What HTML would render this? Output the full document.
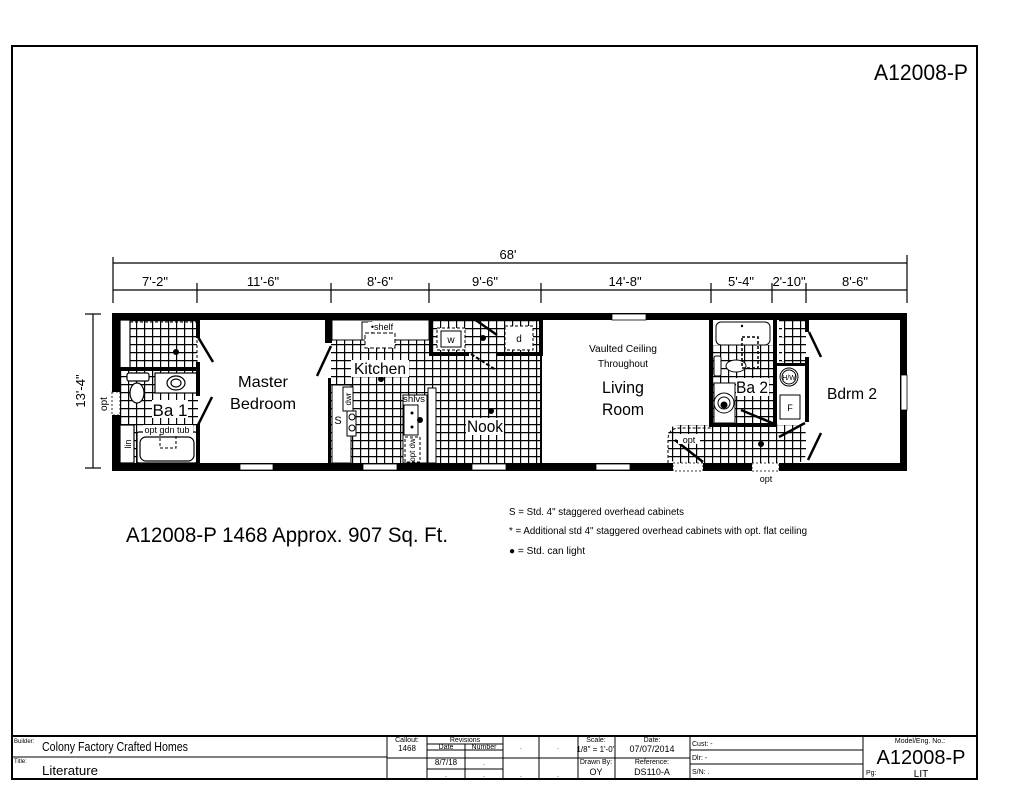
<!DOCTYPE html>
<html><head><meta charset="utf-8"><style>
html,body{margin:0;padding:0;background:#fff;}
svg{display:block;}
text{font-family:"Liberation Sans",sans-serif;fill:#000;}
</style></head><body>
<svg width="1024" height="791" viewBox="0 0 1024 791" xmlns="http://www.w3.org/2000/svg">
<defs>
<pattern id="tile" x="0" y="0" width="8" height="8" patternUnits="userSpaceOnUse">
<rect width="8" height="8" fill="#fff"/>
<path d="M0 0.5H8M0.5 0V8" stroke="#000" stroke-width="1.4"/>
</pattern>
</defs>
<!-- border -->
<rect x="12" y="46" width="965" height="733" fill="none" stroke="#000" stroke-width="2"/>
<text x="968" y="80" font-size="22" text-anchor="end" textLength="94" lengthAdjust="spacingAndGlyphs">A12008-P</text>

<!-- dimensions -->
<g stroke="#000" stroke-width="1.2" fill="none">
<line x1="113" y1="263" x2="907" y2="263"/>
<line x1="113" y1="257" x2="113" y2="303"/>
<line x1="907" y1="255" x2="907" y2="303"/>
<line x1="113" y1="290" x2="907" y2="290"/>
<line x1="197" y1="283" x2="197" y2="303"/>
<line x1="331" y1="283" x2="331" y2="303"/>
<line x1="429" y1="283" x2="429" y2="303"/>
<line x1="541" y1="283" x2="541" y2="303"/>
<line x1="711" y1="283" x2="711" y2="303"/>
<line x1="772" y1="283" x2="772" y2="303"/>
<line x1="806" y1="283" x2="806" y2="303"/>
<line x1="93" y1="314" x2="93" y2="468"/>
<line x1="85" y1="314" x2="101" y2="314"/>
<line x1="85" y1="468" x2="101" y2="468"/>
</g>
<g font-size="13" text-anchor="middle">
<text x="508" y="259">68'</text>
<text x="155" y="286">7'-2"</text>
<text x="263" y="286">11'-6"</text>
<text x="380" y="286">8'-6"</text>
<text x="485" y="286">9'-6"</text>
<text x="625" y="286">14'-8"</text>
<text x="741" y="286">5'-4"</text>
<text x="789" y="286">2'-10"</text>
<text x="855" y="286">8'-6"</text>
</g>
<text transform="translate(85,391) rotate(-90)" font-size="13" text-anchor="middle">13'-4"</text>
<text transform="translate(107,404) rotate(-90)" font-size="10" text-anchor="middle">opt</text>

<!-- floor plan outer walls -->
<rect x="112" y="313" width="795" height="158" fill="#000"/>
<rect x="120" y="320" width="780" height="143" fill="#fff"/>

<!-- tile areas -->
<g fill="url(#tile)">
<rect x="130" y="320" width="67" height="48"/>
<rect x="120" y="371" width="78" height="92"/>
<rect x="331" y="340" width="210" height="123"/>
<rect x="433" y="320" width="108" height="32"/>
<rect x="668" y="425" width="138" height="38" rx="10"/>
<rect x="779" y="320" width="27" height="45"/>
<rect x="713" y="345" width="63" height="78"/>
</g>
<!-- dashed borders -->
<rect x="130" y="322" width="67" height="46" fill="none" stroke="#000" stroke-dasharray="3,2"/>
<path d="M668 463V440Q668 428 680 428H712" fill="none" stroke="#000" stroke-dasharray="3,2"/>

<!-- windows -->
<g fill="#fff" stroke="#000" stroke-width="0.8">
<rect x="240" y="464" width="33" height="6"/>
<rect x="363" y="464" width="34" height="6"/>
<rect x="472" y="464" width="34" height="6"/>
<rect x="596" y="464" width="34" height="6"/>
<rect x="612" y="314" width="34" height="6"/>
<rect x="901" y="375" width="6" height="35"/>
</g>
<g fill="#fff" stroke="#000" stroke-width="0.8" stroke-dasharray="2,2">
<rect x="112" y="392" width="8" height="23"/>
<rect x="752" y="463" width="27" height="8"/>
<rect x="673" y="463" width="30" height="8"/>
</g>

<!-- Ba1 fixtures -->
<g fill="#fff" stroke="#000" stroke-width="1.2">
<rect x="120" y="320" width="10" height="48"/>
<rect x="155" y="373" width="42" height="20"/>
<ellipse cx="176" cy="383" rx="9" ry="7"/>
<ellipse cx="176" cy="383" rx="5" ry="4"/>
<rect x="127" y="373" width="22" height="8" rx="2"/>
<ellipse cx="137" cy="393" rx="7" ry="10"/>
<rect x="120" y="425" width="14" height="38"/>
<rect x="137" y="432" width="60" height="31" rx="2"/>
<rect x="140" y="437" width="54" height="24" rx="6"/>
</g>
<rect x="160" y="432" width="16" height="16" fill="none" stroke="#000" stroke-dasharray="3,2"/>
<circle cx="176" cy="352" r="3" fill="#000"/>
<!-- walls interior left -->
<g fill="#000">
<rect x="120" y="367" width="78" height="4"/>
<rect x="196" y="320" width="4" height="18"/>
<rect x="196" y="362" width="4" height="34"/>
<rect x="196" y="424" width="4" height="39"/>
<rect x="325" y="320" width="7" height="23"/>
<rect x="328" y="378" width="3" height="85"/>
<rect x="429" y="320" width="4" height="36"/>
<rect x="429" y="352" width="40" height="4"/>
<rect x="497" y="352" width="46" height="4"/>
<rect x="539" y="320" width="4" height="36"/>
<rect x="540" y="356" width="2" height="107"/>
</g>
<g stroke="#000" stroke-width="2.5">
<line x1="198" y1="337" x2="213" y2="362"/>
<line x1="198" y1="425" x2="212" y2="397"/>
<line x1="331" y1="346" x2="317" y2="376"/>
<line x1="467" y1="314" x2="497" y2="335"/>
</g>
<line x1="471" y1="354" x2="496" y2="370" stroke="#000" stroke-width="2" stroke-dasharray="4,2"/>

<!-- kitchen -->
<g fill="#fff" stroke="#000" stroke-width="1">
<rect x="332" y="320" width="97" height="20"/>
<rect x="362" y="322" width="10" height="18"/>
<rect x="332" y="385" width="19" height="78"/>
<rect x="343" y="387" width="10" height="24"/>
<rect x="347" y="411" width="9" height="25"/>
<rect x="403" y="395" width="24" height="68"/>
<rect x="404" y="405" width="14" height="30"/>
<rect x="428" y="388" width="8" height="75"/>
</g>
<rect x="365" y="333" width="30" height="15" fill="#fff" stroke="#000" stroke-dasharray="4,2"/>
<rect x="405" y="437" width="15" height="25" fill="#fff" stroke="#000" stroke-dasharray="3,2"/>
<g fill="none" stroke="#000">
<circle cx="352" cy="417" r="3"/><circle cx="352" cy="428" r="3"/>
</g>
<g fill="#000">
<circle cx="412" cy="413" r="1.5"/><circle cx="412" cy="427" r="1.5"/>
<circle cx="420" cy="420" r="3"/>
<circle cx="381" cy="379" r="3"/>
<circle cx="491" cy="411" r="3"/>
<circle cx="483" cy="338" r="3"/>
</g>
<g fill="#fff" stroke="#000" stroke-dasharray="3,2">
<rect x="437" y="328" width="28" height="22"/>
<rect x="505" y="326" width="28" height="24"/>
</g>
<rect x="441" y="331" width="20" height="16" fill="#fff" stroke="#000"/>
<text x="451" y="343" font-size="10" text-anchor="middle">w</text>
<text x="519" y="342" font-size="10" text-anchor="middle">d</text>

<!-- right side walls -->
<g fill="#000">
<rect x="709" y="320" width="4" height="106"/>
<rect x="709" y="423" width="68" height="4"/>
<rect x="773" y="320" width="4" height="106"/>
<rect x="777" y="363" width="29" height="3"/>
<rect x="805" y="320" width="4" height="12"/>
<rect x="805" y="357" width="4" height="65"/>
</g>
<g stroke="#000" stroke-width="2.5">
<line x1="741" y1="410" x2="777" y2="425"/>
<line x1="809" y1="332" x2="821" y2="357"/>
<line x1="808" y1="460" x2="821" y2="433"/>
<line x1="779" y1="437" x2="805" y2="423"/>
<line x1="675" y1="440" x2="703" y2="462"/>
</g>
<g fill="#fff" stroke="#000" stroke-width="1">
<rect x="716" y="322" width="54" height="23" rx="5"/>
<rect x="714" y="356" width="7" height="20" rx="2"/>
<ellipse cx="736" cy="366" rx="10" ry="6"/>
<rect x="714" y="383" width="21" height="40"/>
<circle cx="724" cy="403" r="10"/><circle cx="724" cy="403" r="6"/>
<circle cx="789" cy="377" r="9"/><circle cx="789" cy="377" r="7"/>
<rect x="780" y="395" width="20" height="24"/>
</g>
<circle cx="724" cy="405" r="3.5" fill="#000"/>
<rect x="742" y="337" width="16" height="31" fill="none" stroke="#000" stroke-dasharray="3,2" stroke-width="1.5"/>
<line x1="783" y1="322" x2="783" y2="362" stroke="#fff" stroke-width="2" stroke-dasharray="3,3"/>
<circle cx="761" cy="444" r="3" fill="#000"/>
<circle cx="742" cy="326" r="1.2" fill="#000"/>

<!-- plan labels -->
<g text-anchor="middle">
<text x="263" y="387" font-size="16" textLength="50" lengthAdjust="spacingAndGlyphs">Master</text>
<text x="263" y="409" font-size="16" textLength="66" lengthAdjust="spacingAndGlyphs">Bedroom</text>
<rect x="152" y="400" width="36" height="18" fill="#fff"/>
<text x="170" y="416" font-size="17">Ba 1</text>
<rect x="143" y="425" width="50" height="9" fill="#fff"/>
<text x="167" y="433" font-size="9">opt gdn tub</text>
<rect x="351" y="360" width="58" height="17" fill="#fff"/>
<text x="380" y="374" font-size="16" textLength="52" lengthAdjust="spacingAndGlyphs">Kitchen</text>
<rect x="466" y="418" width="38" height="17" fill="#fff"/>
<text x="485" y="432" font-size="17" textLength="36" lengthAdjust="spacingAndGlyphs">Nook</text>
<rect x="368" y="322" width="30" height="10" fill="#fff"/>
<text x="382" y="330" font-size="9">•shelf</text>
<text x="414" y="402" font-size="9" textLength="22" lengthAdjust="spacingAndGlyphs">shlvs</text>
<text x="338" y="424" font-size="11">S</text>
<text x="623" y="352" font-size="10" textLength="68" lengthAdjust="spacingAndGlyphs">Vaulted Ceiling</text>
<text x="623" y="367" font-size="10" textLength="50" lengthAdjust="spacingAndGlyphs">Throughout</text>
<text x="623" y="393" font-size="17" textLength="42" lengthAdjust="spacingAndGlyphs">Living</text>
<text x="623" y="415" font-size="17" textLength="42" lengthAdjust="spacingAndGlyphs">Room</text>
<rect x="736" y="378" width="33" height="18" fill="#fff"/>
<text x="752" y="393" font-size="17" textLength="32" lengthAdjust="spacingAndGlyphs">Ba 2</text>
<text x="852" y="399" font-size="16" textLength="50" lengthAdjust="spacingAndGlyphs">Bdrm 2</text>
<text x="789" y="380" font-size="7">H/W</text>
<text x="790" y="411" font-size="9">F</text>
<rect x="678" y="434" width="22" height="10" fill="#fff"/>
<text x="689" y="443" font-size="9">opt</text>
<text x="766" y="482" font-size="9">opt</text>
</g>
<text transform="translate(131,444) rotate(-90)" font-size="9" text-anchor="middle">lin</text>
<text transform="translate(351,399) rotate(-90)" font-size="8" text-anchor="middle">dwr</text>
<text transform="translate(415,450) rotate(-90)" font-size="8" text-anchor="middle">opt dw</text>

<!-- notes -->
<text x="126" y="542" font-size="21" textLength="322" lengthAdjust="spacingAndGlyphs">A12008-P 1468  Approx. 907 Sq. Ft.</text>
<text x="509" y="515" font-size="10" textLength="175" lengthAdjust="spacingAndGlyphs">S = Std. 4" staggered overhead cabinets</text>
<text x="509" y="534" font-size="10" textLength="298" lengthAdjust="spacingAndGlyphs">* = Additional std 4" staggered overhead cabinets with opt. flat ceiling</text>
<text x="509" y="554" font-size="10" textLength="76" lengthAdjust="spacingAndGlyphs">● = Std. can light</text>

<!-- title block -->
<g stroke="#000" stroke-width="1" fill="none">
<line x1="12" y1="736" x2="977" y2="736" stroke-width="2"/>
<line x1="387" y1="736" x2="387" y2="779"/>
<line x1="427" y1="736" x2="427" y2="779"/>
<line x1="465" y1="744" x2="465" y2="779"/>
<line x1="503" y1="736" x2="503" y2="779"/>
<line x1="539" y1="736" x2="539" y2="779"/>
<line x1="578" y1="736" x2="578" y2="779"/>
<line x1="615" y1="736" x2="615" y2="779"/>
<line x1="690" y1="736" x2="690" y2="779"/>
<line x1="863" y1="736" x2="863" y2="779"/>
<line x1="12" y1="757" x2="387" y2="757"/>
<line x1="387" y1="758" x2="690" y2="758"/>
<line x1="427" y1="744" x2="503" y2="744"/>
<line x1="427" y1="750" x2="503" y2="750"/>
<line x1="427" y1="769" x2="503" y2="769"/>
<line x1="690" y1="750" x2="863" y2="750"/>
<line x1="690" y1="764" x2="863" y2="764"/>
</g>
<g font-size="6">
<text x="14" y="743">Builder:</text>
<text x="14" y="763">Title:</text>
<text x="692" y="746" font-size="7">Cust: -</text>
<text x="692" y="760" font-size="7">Dlr: -</text>
<text x="692" y="774" font-size="7">S/N: .</text>
<text x="866" y="775" font-size="7">Pg:</text>
</g>
<text x="42" y="751" font-size="13" textLength="146" lengthAdjust="spacingAndGlyphs">Colony Factory Crafted Homes</text>
<text x="42" y="775" font-size="13" textLength="56" lengthAdjust="spacingAndGlyphs">Literature</text>
<g text-anchor="middle" font-size="7">
<text x="407" y="742">Callout:</text>
<text x="407" y="751" font-size="8">1468</text>
<text x="465" y="742">Revisions</text>
<text x="446" y="749">Date</text>
<text x="484" y="749">Number</text>
<text x="446" y="765" font-size="8">8/7/18</text>
<text x="484" y="765">.</text>
<text x="446" y="777">.</text><text x="484" y="777">.</text>
<text x="521" y="749">.</text><text x="558" y="749">.</text>
<text x="521" y="777">.</text><text x="558" y="777">.</text>
<text x="596" y="742">Scale:</text>
<text x="596" y="752" font-size="8">1/8" = 1'-0"</text>
<text x="596" y="764">Drawn By:</text>
<text x="596" y="775" font-size="9">OY</text>
<text x="652" y="742">Date:</text>
<text x="652" y="752" font-size="9">07/07/2014</text>
<text x="652" y="764">Reference:</text>
<text x="652" y="775" font-size="9">DS110-A</text>
<text x="920" y="743">Model/Eng. No.:</text>
<text x="921" y="764" font-size="20">A12008-P</text>
<text x="921" y="777" font-size="10">LIT</text>
</g>
</svg>
</body></html>
